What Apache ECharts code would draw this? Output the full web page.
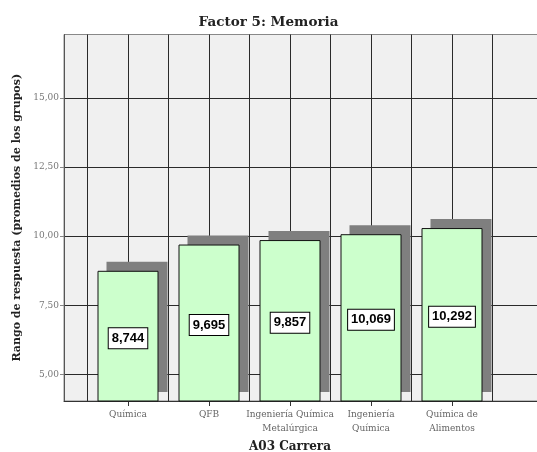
<!DOCTYPE html>
<html>
<head>
<meta charset="utf-8">
<script src="https://cdn.jsdelivr.net/npm/echarts@6/dist/echarts.min.js"></script>
<style>html,body{margin:0;padding:0;background:#fff}#c{width:537px;height:452px}</style>
</head>
<body>
<div id="c"></div>
<script>
const categories = ['Química', 'QFB', 'Ingeniería Química\nMetalúrgica', 'Ingeniería\nQuímica', 'Química de\nAlimentos'];
const values = [8.744, 9.695, 9.857, 10.069, 10.292];
const yTicks = [5, 7.5, 10, 12.5, 15];
const yMin = 4.03, yMax = 17.3;

const fmt2 = v => v.toFixed(2).replace('.', ',');
const fmt3 = v => v.toFixed(3).replace('.', ',');
const serif = 'DejaVu Serif';
const BAR_W = 61, SH = 9;

const chart = echarts.init(document.getElementById('c'), null, {renderer: 'canvas'});
chart.setOption({
  animation: false,
  backgroundColor: '#fff',
  title: {
    text: 'Factor 5: Memoria', left: 'center', top: 10,
    textStyle: {fontFamily: serif, fontSize: 13.5, fontWeight: 'bold', color: '#222'}
  },
  grid: [
    {left: 64, right: -2, top: 34.5, bottom: 51, show: true, backgroundColor: '#f0f0f0', borderColor: '#888', borderWidth: 1, containLabel: false, outerBoundsMode: 'none'},
    {left: 87.5, right: 44.5, top: 34.5, bottom: 51, containLabel: false, outerBoundsMode: 'none'}
  ],
  xAxis: [
    {gridIndex: 0, type: 'value', min: 0, max: 1, axisLine: {show: true, lineStyle: {color: '#333'}}, axisTick: {show: false}, axisLabel: {show: false}, splitLine: {show: false}},
    {gridIndex: 1, type: 'value', position: 'top', min: 0, max: 5, interval: 0.5, axisLine: {show: false}, axisTick: {show: false}, axisLabel: {show: false}, splitLine: {show: true, lineStyle: {color: '#2a2a2a', width: 1}}},
    {gridIndex: 1, type: 'category', position: 'bottom', data: categories,
      axisLine: {show: false}, axisTick: {show: true, alignWithLabel: true, length: 5, lineStyle: {color: '#333'}},
      axisLabel: {margin: 7, fontFamily: serif, fontSize: 9, lineHeight: 14, color: '#666', interval: 0},
      name: 'A03 Carrera', nameLocation: 'middle', nameGap: 37,
      nameTextStyle: {fontFamily: serif, fontSize: 12, fontWeight: 'bold', color: '#222'}}
  ],
  yAxis: [
    {gridIndex: 0, type: 'value', min: yMin, max: yMax,
      axisLine: {show: true, lineStyle: {color: '#555'}},
      axisTick: {show: true, length: 4, customValues: yTicks, lineStyle: {color: '#888'}},
      axisLabel: {customValues: yTicks, formatter: fmt2, fontFamily: serif, fontSize: 9, color: '#777', margin: 5},
      splitLine: {show: true, lineStyle: {color: '#2a2a2a', width: 1}},
      name: 'Rango de respuesta (promedios de los grupos)', nameLocation: 'middle', nameGap: 40,
      nameTextStyle: {fontFamily: serif, fontSize: 11, fontWeight: 'bold', color: '#222'}},
    {gridIndex: 1, type: 'value', min: yMin, max: yMax, show: false, splitLine: {show: false}}
  ],
  series: [
    {
      type: 'custom', xAxisIndex: 2, yAxisIndex: 1, z: 1,
      data: values.map((v, i) => [i, v]),
      renderItem: (params, api) => {
        const top = api.coord([api.value(0), api.value(1)]);
        const bot = api.coord([api.value(0), yMin]);
        return {type: 'rect', shape: {x: top[0] - BAR_W / 2 + SH, y: top[1] - SH, width: BAR_W, height: bot[1] - top[1]}, style: {fill: '#7f7f7f'}};
      }
    },
    {
      type: 'bar', xAxisIndex: 2, yAxisIndex: 1, data: values, barWidth: BAR_W, z: 2,
      itemStyle: {color: '#ccffcc', borderColor: '#111', borderWidth: 1},
      label: {show: true, position: 'inside', offset: [0, 2], formatter: p => fmt3(p.value),
        fontFamily: 'Liberation Sans', fontSize: 13, fontWeight: 'bold', color: '#000',
        backgroundColor: '#fff', borderColor: '#000', borderWidth: 1, padding: [4, 3, 3, 3]}
    }
  ]
});
</script>
</body>
</html>
